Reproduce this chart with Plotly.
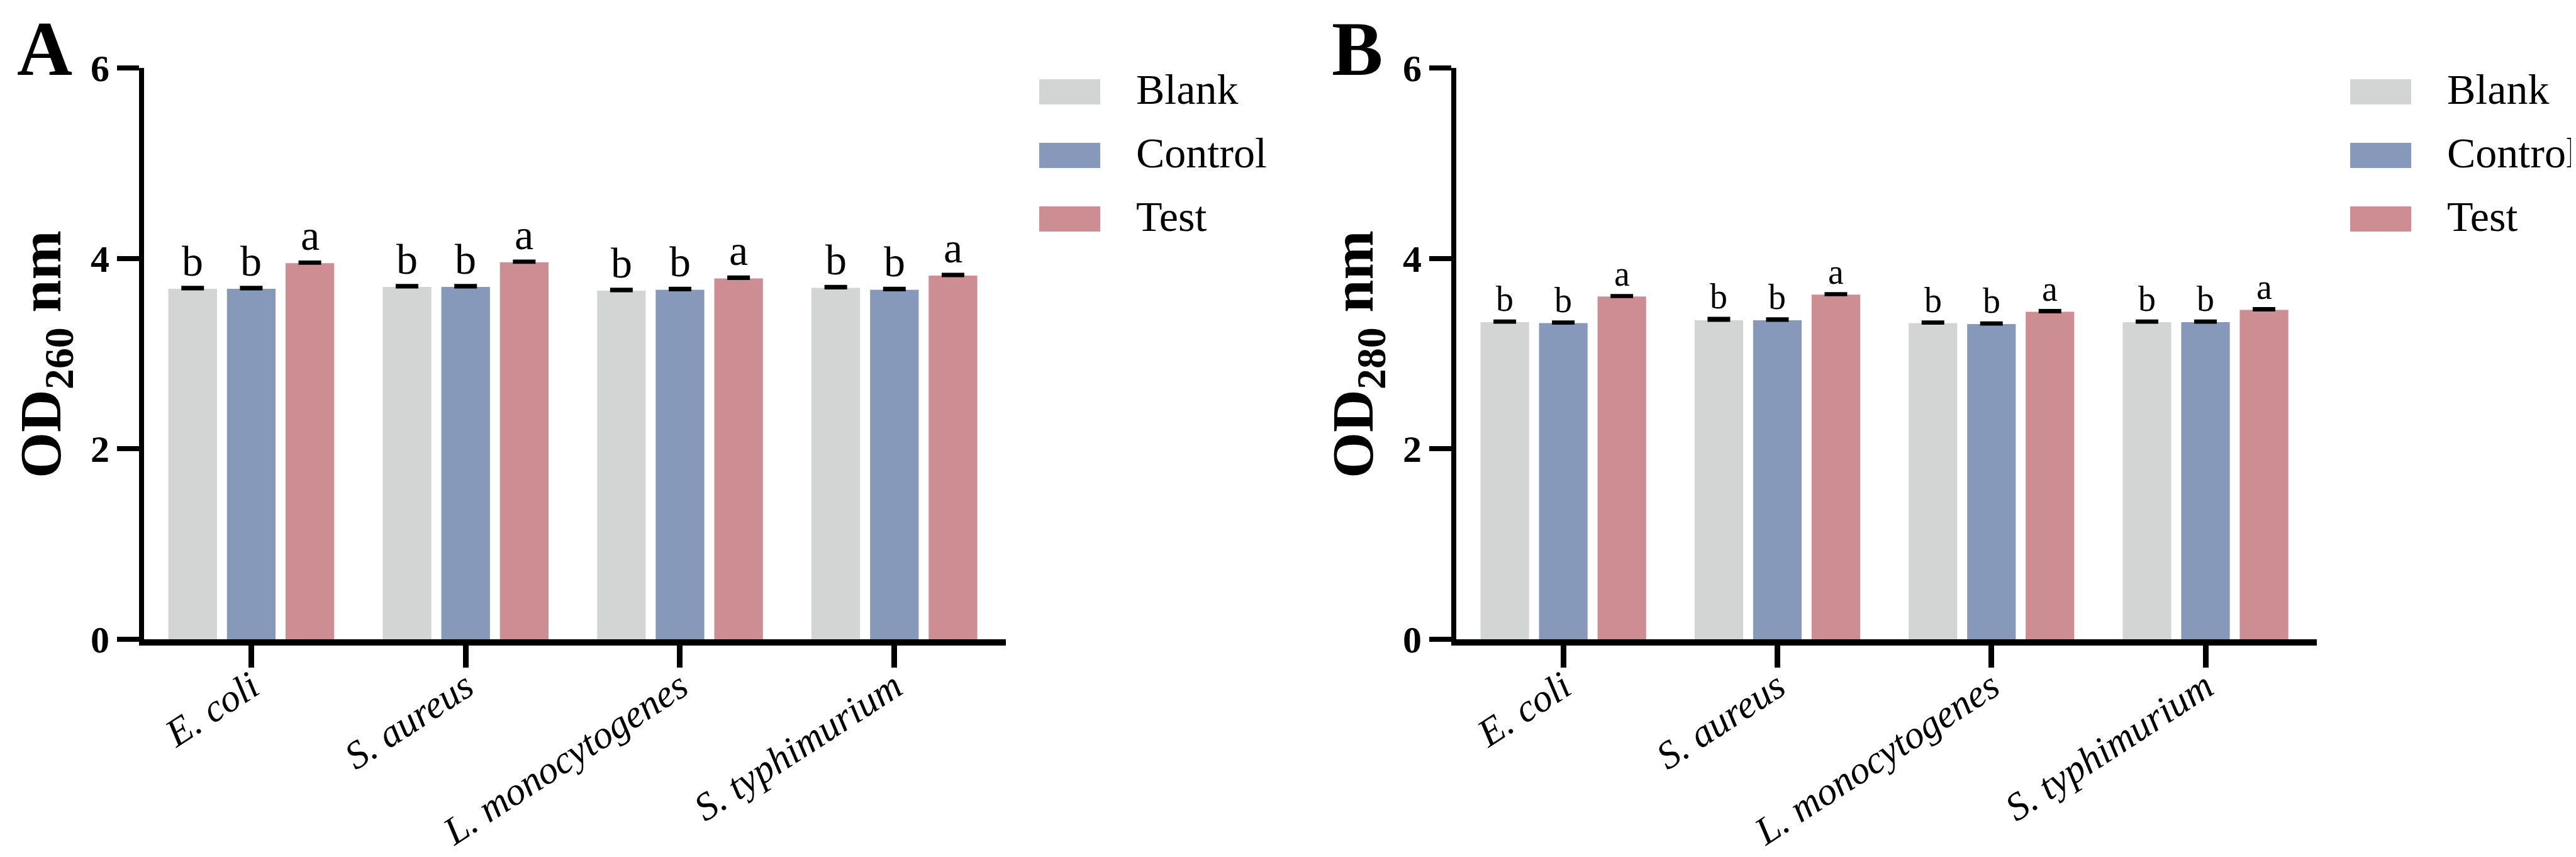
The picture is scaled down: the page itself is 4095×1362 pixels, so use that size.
import plotly.graph_objects as go
from plotly.subplots import make_subplots

# bacteria on the x axis
species = ["E. coli", "S. aureus", "L. monocytogenes", "S. typhimurium"]
groups = ["Blank", "Control", "Test"]
colors = ["#D3D5D4", "#8799BA", "#CC8E92"]

# panel A, OD260
od260_blank = [3.68, 3.70, 3.66, 3.69]
od260_control = [3.68, 3.70, 3.67, 3.67]
od260_test = [3.95, 3.96, 3.79, 3.82]
od260_err_blank = [0.015, 0.015, 0.015, 0.015]
od260_err_control = [0.015, 0.015, 0.015, 0.015]
od260_err_test = [0.012, 0.012, 0.015, 0.012]
od260_letters_blank = ["b", "b", "b", "b"]
od260_letters_control = ["b", "b", "b", "b"]
od260_letters_test = ["a", "a", "a", "a"]

# panel B, OD280
od280_blank = [3.33, 3.35, 3.32, 3.33]
od280_control = [3.32, 3.35, 3.31, 3.33]
od280_test = [3.60, 3.62, 3.44, 3.46]
od280_err_blank = [0.012, 0.02, 0.012, 0.012]
od280_err_control = [0.012, 0.015, 0.012, 0.012]
od280_err_test = [0.01, 0.01, 0.012, 0.012]
od280_letters_blank = ["b", "b", "b", "b"]
od280_letters_control = ["b", "b", "b", "b"]
od280_letters_test = ["a", "a", "a", "a"]

y_ticks = [0, 2, 4, 6]

W, H = 4095, 1362
FONT = "Liberation Serif, Times New Roman, serif"
BARGAP = 0.18


def px_x(v):
    return v / W


def px_y(v):
    return 1 - v / H


panels = [
    dict(vals=[od260_blank, od260_control, od260_test],
         errs=[od260_err_blank, od260_err_control, od260_err_test],
         letters=[od260_letters_blank, od260_letters_control, od260_letters_test],
         left=221, right=1591, title="OD<sub>260</sub> nm", tag="A", letter_size=68),
    dict(vals=[od280_blank, od280_control, od280_test],
         errs=[od280_err_blank, od280_err_control, od280_err_test],
         letters=[od280_letters_blank, od280_letters_control, od280_letters_test],
         left=2307, right=3675, title="OD<sub>280</sub> nm", tag="B", letter_size=56),
]

fig = make_subplots(rows=1, cols=2)
annotations = []
shapes = []
y_top, y_bot = 100, 1008
slot = (1 - BARGAP) / len(groups)

for p, panel in enumerate(panels):
    col = p + 1
    for g, name in enumerate(groups):
        fig.add_trace(go.Bar(
            x=species, y=panel["vals"][g], name=name,
            marker=dict(color=colors[g], line=dict(width=0)),
            error_y=dict(type="data", array=panel["errs"][g], arrayminus=[0] * len(species),
                         symmetric=False, color="black", thickness=5, width=18),
            showlegend=False,
        ), row=1, col=col)
        # significance letters
        for i in range(len(species)):
            annotations.append(dict(
                x=i + (g - 1) * slot, y=panel["vals"][g][i] + panel["errs"][g][i],
                xref="x" if col == 1 else "x2", yref="y" if col == 1 else "y2",
                text=panel["letters"][g][i], showarrow=False,
                yanchor="bottom", xanchor="center", yshift=2,
                font=dict(family=FONT, size=panel["letter_size"], color="black"),
            ))

    xdom = [px_x(panel["left"]), px_x(panel["right"])]
    fig.update_xaxes(
        domain=xdom, range=[-0.5, 3.52], showline=True, linewidth=10, linecolor="black",
        ticks="outside", ticklen=35, tickwidth=9, tickcolor="black", tickangle=-33,
        ticklabelstandoff=-30,
        tickfont=dict(family=FONT, size=62, color="black", style="italic"),
        showgrid=False, zeroline=False, automargin=False, row=1, col=col)
    fig.update_yaxes(
        domain=[px_y(y_bot), px_y(y_top)], range=[0, 6], tickvals=y_ticks,
        showline=True, linewidth=8, linecolor="black",
        ticks="outside", ticklen=35, tickwidth=8, tickcolor="black",
        tickfont=dict(family=FONT, size=60, color="black", weight="bold"),
        showgrid=False, zeroline=False, automargin=False, row=1, col=col)

    # y axis title
    annotations.append(dict(
        x=px_x(panel["left"] - 158), y=px_y(555), xref="paper", yref="paper",
        text=panel["title"], textangle=-90, showarrow=False, xanchor="center", yanchor="middle",
        font=dict(family=FONT, size=94, color="black", weight="bold"),
    ))
    # panel tag
    annotations.append(dict(
        x=px_x(panel["left"] - 158), y=1, xref="paper", yref="paper",
        text=panel["tag"], showarrow=False, xanchor="center", yanchor="top",
        font=dict(family=FONT, size=122, color="black", weight="bold"),
    ))
    # legend
    sw_left = panel["right"] + 53
    for g, name in enumerate(groups):
        cy = 138 + g * 101
        shapes.append(dict(
            type="rect", xref="paper", yref="paper",
            x0=px_x(sw_left), x1=px_x(sw_left + 97),
            y0=px_y(cy + 20), y1=px_y(cy - 20),
            fillcolor=colors[g], line=dict(width=0),
        ))
        annotations.append(dict(
            x=px_x(sw_left + 152), y=px_y(cy - 4), xref="paper", yref="paper",
            text=name, showarrow=False, xanchor="left", yanchor="middle",
            font=dict(family=FONT, size=68, color="black"),
        ))

fig.update_layout(
    width=W, height=H, margin=dict(l=0, r=0, t=0, b=0),
    template="none", plot_bgcolor="white", paper_bgcolor="white",
    barmode="group", bargap=BARGAP, bargroupgap=0.17,
    annotations=annotations, shapes=shapes,
)

fig.write_html("out.html")
